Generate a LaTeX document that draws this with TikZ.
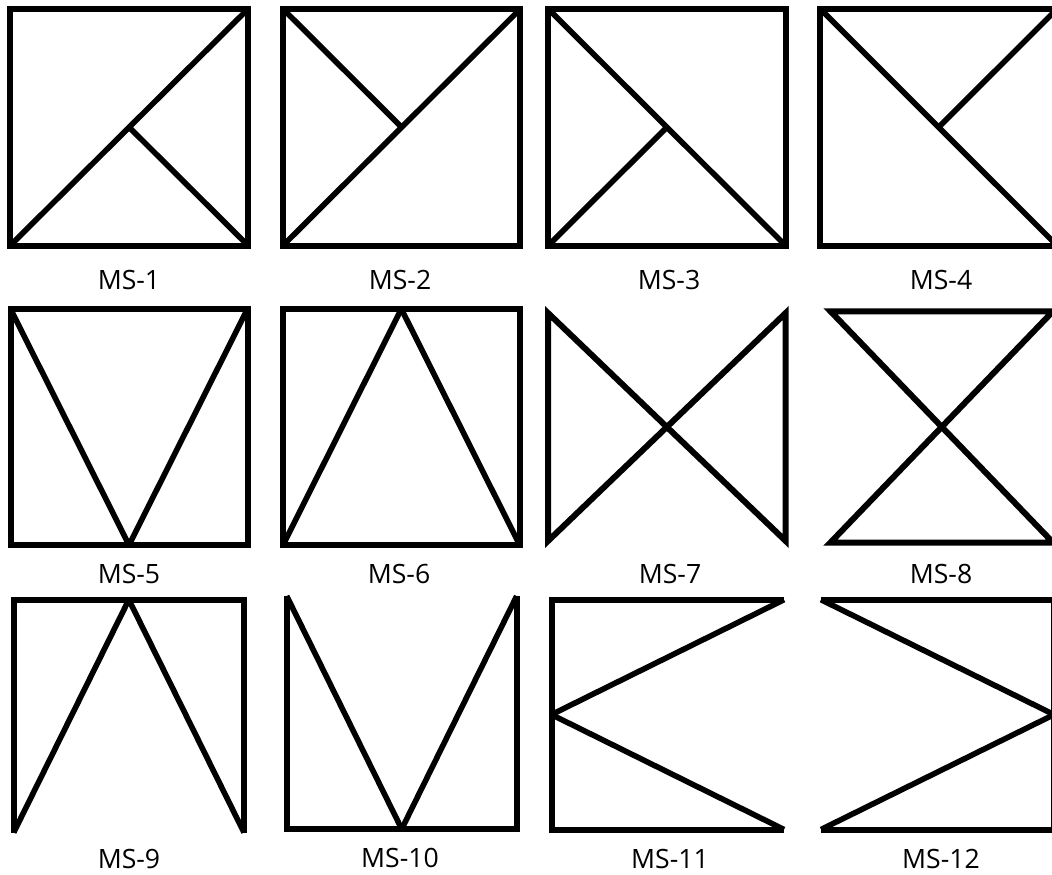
\documentclass[tikz,border=0pt]{standalone}
\usepackage{fontspec}
\newfontfamily\lblfont{Open Sans}
\tikzset{
  frame/.style={draw=black, line width=6pt, line join=miter, line cap=butt},
  diag/.style={draw=black, line width=5.6pt, line cap=butt},
  lbl/.style={font=\lblfont\fontsize{26.6}{30}\selectfont, text=black, inner sep=0pt, anchor=center}
}
\begin{document}
\begin{tikzpicture}[x=1pt, y=-1pt]
\useasboundingbox (0,0) rectangle (1052,875);
\clip (0,0) rectangle (1052,875);
\fill[white] (0,0) rectangle (1052,875);
% ---------- Row 1 ----------
% MS-1
\draw[frame] (10.3,9) rectangle (248,245.5);
\draw[diag] (10.3,245.5) -- (248,9);
\draw[diag] (129.15,127.25) -- (248,245.5);
\node[lbl] (l1) at (129,280) {MS-1};
% MS-2
\draw[frame] (283,9) rectangle (520.3,245.5);
\draw[diag] (283,245.5) -- (520.3,9);
\draw[diag] (283,9) -- (401.65,127.25);
\node[lbl] (l2) at (400,280) {MS-2};
% MS-3
\draw[frame] (548.3,9) rectangle (785.5,245.5);
\draw[diag] (548.3,9) -- (785.5,245.5);
\draw[diag] (548.3,245.5) -- (666.9,127.25);
\node[lbl] (l3) at (669,280) {MS-3};
% MS-4
\draw[frame] (820.3,9) rectangle (1057,245.5);
\draw[diag] (820.3,9) -- (1057,245.5);
\draw[diag] (938.65,127.25) -- (1057,9);
\node[lbl] (l4) at (941,280) {MS-4};
% ---------- Row 2 ----------
% MS-5
\draw[frame] (10.5,309) rectangle (247.5,545);
\draw[diag] (10.5,309) -- (129,545);
\draw[diag] (129,545) -- (247.5,309);
\node[lbl] (l5) at (129,574) {MS-5};
% MS-6
\draw[frame] (283,309) rectangle (519.7,545);
\draw[diag] (283,545) -- (401.35,309);
\draw[diag] (401.35,309) -- (519.7,545);
\node[lbl] (l6) at (399,574) {MS-6};
% MS-7
\draw[frame] (548,313) -- (548,541) -- (785.7,313) -- (785.7,541) -- cycle;
\node[lbl] (l7) at (670,574) {MS-7};
% MS-8
\draw[frame] (830.5,311.3) -- (1053,311.3) -- (830.5,542.5) -- (1053,542.5) -- cycle;
\node[lbl] (l8) at (941,574) {MS-8};
% ---------- Row 3 ----------
% MS-9
\draw[frame] (13.7,832.5) -- (13.7,599.7) -- (244,599.7) -- (244,832.5);
\draw[diag] (13.7,832.5) -- (128.85,599.7);
\draw[diag] (128.85,599.7) -- (244,832.5);
\node[lbl] (l9) at (129,859) {MS-9};
% MS-10
\draw[frame] (286.7,596) -- (286.7,829) -- (516.7,829) -- (516.7,596);
\draw[diag] (286.7,596) -- (401.7,829);
\draw[diag] (401.7,829) -- (516.7,596);
\node[lbl] (l10) at (400,858) {MS-10};
% MS-11
\draw[frame] (784,599.7) -- (551.5,599.7) -- (551.5,829.5) -- (784,829.5);
\draw[diag] (784,599.7) -- (551.5,714.6);
\draw[diag] (551.5,714.6) -- (784,829.5);
\node[lbl] (l11) at (670,859) {MS-11};
% MS-12
\draw[frame] (821,599.7) -- (1054,599.7) -- (1054,829.5) -- (821,829.5);
\draw[diag] (821,599.7) -- (1054,714.6);
\draw[diag] (1054,714.6) -- (821,829.5);
\node[lbl] (l12) at (941,859) {MS-12};
\end{tikzpicture}
\end{document}
